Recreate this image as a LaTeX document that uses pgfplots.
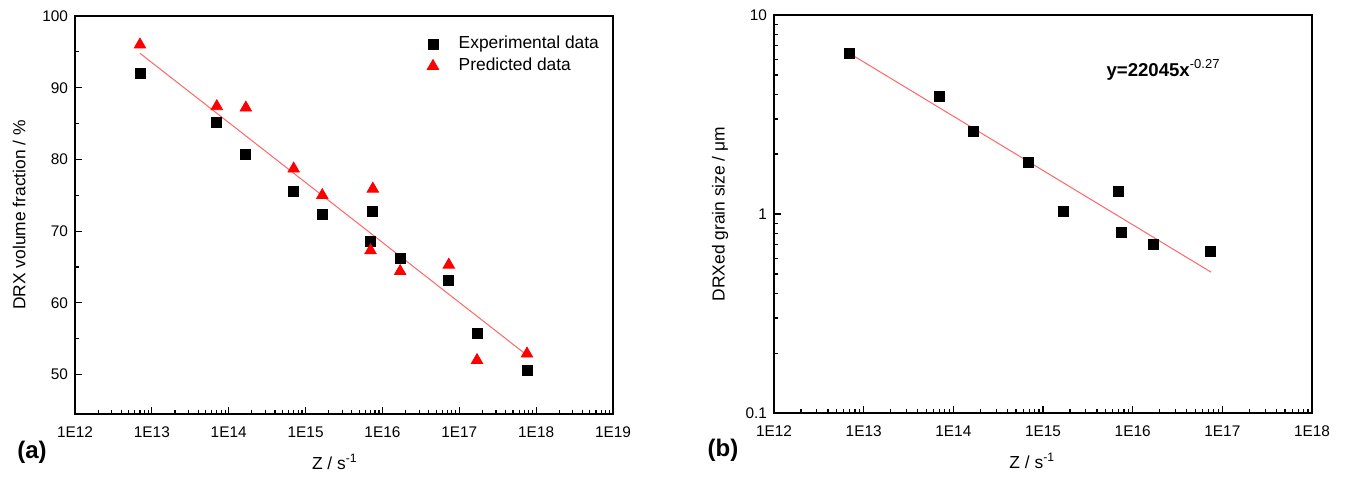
\documentclass[border=0pt]{standalone}
\usepackage{pgfplots}
\pgfplotsset{compat=1.18}
\usepackage{fontspec}
\setmainfont{Liberation Sans}
\begin{document}
\begin{tikzpicture}
\pgfplotsset{
  every axis/.append style={
    scale only axis, width=269pt, height=199pt,
    axis line style={line width=0.8pt},
    xmode=log, xmin=1e12,
    xtick pos=bottom, ytick pos=left,
    tick align=inside,
    major tick length=3.5pt, minor tick length=2pt,
    every tick/.style={black, line width=0.6pt},
    tick label style={font=\fontsize{7.7}{9}\selectfont},
    xticklabel style={yshift=-3pt},
    label style={font=\fontsize{8.7}{10}\selectfont},
    /pgf/number format/assume math mode=true,
  },
  expmark/.style={only marks, mark=square*, mark size=2.5pt, mark options={draw=black, fill=black}},
  predmark/.style={only marks, mark=triangle*, mark size=3.3pt, mark options={draw=red, fill=red}},
}
\useasboundingbox (-37.5pt,-31.5pt) rectangle (636pt,207pt);

\begin{axis}[at={(0pt,0pt)}, anchor=south west,
  xmax=1e19,
  xtick={1e12,1e13,1e14,1e15,1e16,1e17,1e18,1e19},
  xticklabels={1E12,1E13,1E14,1E15,1E16,1E17,1E18,1E19},
  ymin=44.5, ymax=100, ytick={50,60,70,80,90,100}, minor y tick num=1,
  xlabel={Z / s\textsuperscript{-1}},
  ylabel={DRX volume fraction / \%},
  xlabel style={at={(axis description cs:0.483,-0.12)}, anchor=center},
  ylabel style={at={(axis description cs:-0.104,0.5)}, anchor=center},
  legend image code/.code={\draw[#1] plot coordinates {(0pt,0pt)};},
  legend style={at={(axis description cs:0.654,0.958)}, anchor=north west,
    draw=none, fill=none, font=\fontsize{8.7}{10}\selectfont,
    row sep=0pt, column sep=8pt, inner sep=0pt, nodes={inner ysep=1.6pt}},
  legend cell align=left,
]
\addplot[red!60, line width=0.5pt, forget plot] coordinates {(7e12,94.8) (7.6e17,52.7)};
\addplot[expmark] coordinates {
(7.0e12,92.0) (7.0e13,85.1) (1.67e14,80.7) (7.0e14,75.5) (1.65e15,72.4)
(7.0e15,68.6) (7.5e15,72.7) (1.7e16,66.2) (7.3e16,63.2) (1.7e17,55.8) (7.6e17,50.6)};
\addlegendentry{Experimental data}
\addplot[predmark] coordinates {
(7.0e12,96.0) (7.0e13,87.4) (1.67e14,87.2) (7.0e14,78.7) (1.65e15,75.0)
(7.0e15,67.3) (7.5e15,75.9) (1.7e16,64.4) (7.3e16,65.3) (1.7e17,52.0) (7.6e17,52.9)};
\addlegendentry{Predicted data}
\end{axis}

\begin{axis}[at={(349.5pt,0.5pt)}, anchor=south west,
  xmax=1e18,
  xtick={1e12,1e13,1e14,1e15,1e16,1e17,1e18},
  xticklabels={1E12,1E13,1E14,1E15,1E16,1E17,1E18},
  ymode=log, ymin=0.1, ymax=10, ytick={0.1,1,10}, yticklabels={0.1,1,10},
  xlabel={Z / s\textsuperscript{-1}},
  ylabel={DRXed grain size / μm},
  xlabel style={at={(axis description cs:0.48,-0.12)}, anchor=center},
  ylabel style={at={(axis description cs:-0.1,0.5)}, anchor=center},
]
\addplot[red!60, line width=0.5pt] coordinates {(7e12,6.4) (7.5e16,0.51)};
\addplot[expmark] coordinates {
(6.9e12,6.4) (6.9e13,3.91) (1.67e14,2.6) (6.9e14,1.82) (1.68e15,1.03)
(6.9e15,1.30) (7.4e15,0.81) (1.7e16,0.70) (7.4e16,0.65)};
\node[anchor=base west, font=\bfseries\fontsize{9.3}{11}\selectfont]
  at (rel axis cs:0.605,0.846) {y=22045x\textsuperscript{\mdseries -0.27}};
\end{axis}

\node[font=\bfseries\fontsize{12}{14}\selectfont] at (-21.5pt,-19pt) {(a)};
\node[font=\bfseries\fontsize{12}{14}\selectfont] at (324pt,-18pt) {(b)};
\end{tikzpicture}
\end{document}
